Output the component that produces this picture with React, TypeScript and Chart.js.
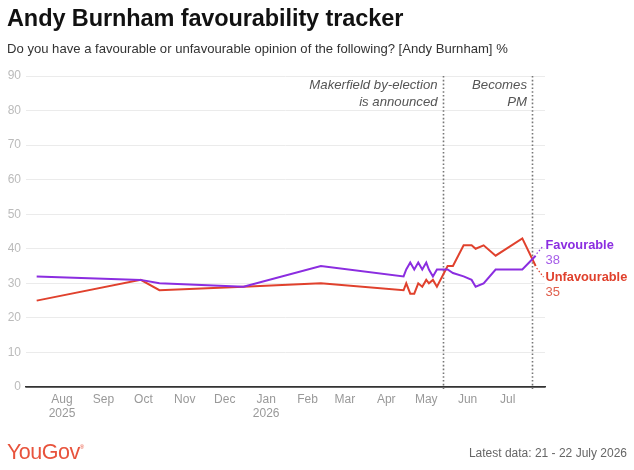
import React, { useEffect, useRef } from "react";
import { Chart, registerables } from "chart.js";

Chart.register(...registerables);

// ---- Data -------------------------------------------------------------
const pollDates = [
  "2025-07-13", "2025-09-29", "2025-10-13", "2025-12-15", "2026-02-11",
  "2026-04-14", "2026-04-16", "2026-04-19", "2026-04-22", "2026-04-25",
  "2026-04-28", "2026-05-01", "2026-05-03", "2026-05-06", "2026-05-09",
  "2026-05-17", "2026-05-21", "2026-05-29", "2026-06-04", "2026-06-07",
  "2026-06-13", "2026-06-22", "2026-07-12", "2026-07-22",
];
const favourable = [
  32, 31, 30, 29, 35,
  32, 34, 36, 34, 36,
  34, 36, 34, 32, 34,
  34, 33, 32, 31, 29,
  30, 34, 34, 38,
];
const unfavourable = [
  25, 31, 28, 29, 30,
  28, 30, 27, 27, 30,
  29, 31, 30, 31, 29,
  35, 35, 41, 41, 40,
  41, 38, 43, 35,
];
const seriesNames = ["Favourable", "Unfavourable"];

const monthTickDates = [
  "2025-08-01", "2025-09-01", "2025-10-01", "2025-11-01", "2025-12-01", "2026-01-01",
  "2026-02-01", "2026-03-01", "2026-04-01", "2026-05-01", "2026-06-01", "2026-07-01",
];
const monthLabels = ["Aug", "Sep", "Oct", "Nov", "Dec", "Jan", "Feb", "Mar", "Apr", "May", "Jun", "Jul"];
const yearLabels = ["2025", "", "", "", "", "2026", "", "", "", "", "", ""];
const yTickValues = [0, 10, 20, 30, 40, 50, 60, 70, 80, 90];

const eventDates = ["2026-05-14", "2026-07-20"];
const eventLabels = [
  ["Makerfield by-election", "is announced"],
  ["Becomes", "PM"],
];

const xRangeDates = ["2025-07-05", "2026-07-29"];

const titleText = "Andy Burnham favourability tracker";
const subtitleText = "Do you have a favourable or unfavourable opinion of the following? [Andy Burnham] %";
const footerText = "Latest data: 21 - 22 July 2026";

// ---- Helpers ----------------------------------------------------------
const BASE = Date.UTC(2025, 7, 1);
const dayNum = (s: string) => {
  const [y, m, d] = s.split("-").map(Number);
  return (Date.UTC(y, m - 1, d) - BASE) / 86400000;
};

const PURPLE = "#8b2de0";
const PURPLE_LIGHT = "#a65de8";
const RED = "#e0412d";
const RED_LIGHT = "#e0604e";
const FONT = "'Liberation Sans', Arial, sans-serif";

const overlayPlugin = {
  id: "overlay",
  beforeDatasetsDraw(chart: any) {
    const { ctx, chartArea, scales } = chart;
    ctx.save();
    eventDates.forEach((d) => {
      const x = Math.round(scales.x.getPixelForValue(dayNum(d))) - 0.5;
      ctx.strokeStyle = "#777";
      ctx.lineWidth = 1.6;
      ctx.setLineDash([1.6, 2.2]);
      ctx.beginPath();
      ctx.moveTo(x, chartArea.top);
      ctx.lineTo(x, chartArea.bottom + 2);
      ctx.stroke();
    });
    ctx.restore();
  },
  afterDatasetsDraw(chart: any) {
    const { ctx, chartArea, scales } = chart;
    ctx.save();
    // event annotations
    ctx.fillStyle = "#555";
    ctx.font = `italic 13.2px ${FONT}`;
    ctx.textAlign = "right";
    ctx.textBaseline = "middle";
    eventDates.forEach((d, i) => {
      const x = scales.x.getPixelForValue(dayNum(d));
      eventLabels[i].forEach((t, j) => {
        ctx.fillText(t, x - 6, chartArea.top + 9 + j * 17);
      });
    });

    // end labels
    const colors = [PURPLE, RED];
    const lights = [PURPLE_LIGHT, RED_LIGHT];
    const offsets = [-10, 11];
    const values = [favourable, unfavourable];
    chart.data.datasets.forEach((ds: any, i: number) => {
      const meta = chart.getDatasetMeta(i);
      const last = meta.data[meta.data.length - 1];
      const ly = last.y + offsets[i];
      const lx = chartArea.right + 0.5;
      ctx.strokeStyle = colors[i];
      ctx.lineWidth = 1.2;
      ctx.setLineDash([1.5, 2]);
      ctx.beginPath();
      ctx.moveTo(last.x + 1, last.y + (i === 0 ? -2 : 2));
      ctx.lineTo(lx - 2, ly);
      ctx.stroke();
      ctx.setLineDash([]);
      ctx.textAlign = "left";
      ctx.textBaseline = "middle";
      ctx.fillStyle = colors[i];
      ctx.font = `bold 12.8px ${FONT}`;
      ctx.fillText(seriesNames[i], lx, ly);
      ctx.fillStyle = lights[i];
      ctx.font = `13px ${FONT}`;
      ctx.fillText(String(values[i][values[i].length - 1]), lx, ly + 15);
    });
    ctx.restore();
  },
};

export default function App() {
  const canvasRef = useRef<HTMLCanvasElement | null>(null);

  useEffect(() => {
    const canvas = canvasRef.current;
    if (!canvas) return;
    const xs = pollDates.map(dayNum);
    const monthVals = monthTickDates.map(dayNum);

    const chart = new Chart(canvas, {
      type: "line",
      data: {
        datasets: [
          {
            label: seriesNames[0],
            data: xs.map((x, i) => ({ x, y: favourable[i] })),
            borderColor: PURPLE,
            borderWidth: 2,
            pointRadius: 0,
            tension: 0,
          },
          {
            label: seriesNames[1],
            data: xs.map((x, i) => ({ x, y: unfavourable[i] })),
            borderColor: RED,
            borderWidth: 2,
            pointRadius: 0,
            tension: 0,
          },
        ],
      },
      options: {
        animation: false,
        responsive: false,
        maintainAspectRatio: false,
        events: [],
        layout: { padding: { top: 76, right: 89, left: 0, bottom: 0 } },
        plugins: {
          legend: { display: false },
          tooltip: { enabled: false },
          title: { display: false },
        },
        scales: {
          x: {
            type: "linear",
            min: dayNum(xRangeDates[0]),
            max: dayNum(xRangeDates[1]),
            afterBuildTicks: (scale: any) => {
              scale.ticks = monthVals.map((v) => ({ value: v }));
            },
            afterFit: (scale: any) => {
              scale.height = 83;
            },
            grid: { display: false, drawTicks: false },
            border: { display: true, color: "#333", width: 1.5 },
            ticks: {
              autoSkip: false,
              maxRotation: 0,
              padding: 5,
              color: "#999",
              font: { family: FONT, size: 12 },
              callback: (value: any) => {
                const idx = monthVals.indexOf(Number(value));
                if (idx < 0) return "";
                return yearLabels[idx] ? [monthLabels[idx], yearLabels[idx]] : monthLabels[idx];
              },
            },
          },
          y: {
            min: 0,
            max: 90,
            afterBuildTicks: (scale: any) => {
              scale.ticks = yTickValues.map((v) => ({ value: v }));
            },
            afterFit: (scale: any) => {
              scale.width = 26;
            },
            grid: {
              drawTicks: false,
              color: (c: any) => (c.tick && c.tick.value === 0 ? "#333" : "#ebebeb"),
              lineWidth: (c: any) => (c.tick && c.tick.value === 0 ? 1.5 : 1),
            },
            border: { display: false },
            ticks: {
              padding: 5,
              color: "#bbb",
              font: { family: FONT, size: 12 },
            },
          },
        },
      },
      plugins: [overlayPlugin],
    } as any);

    return () => chart.destroy();
  }, []);

  return (
    <div
      style={{
        position: "absolute",
        left: 0,
        top: 0,
        width: 634,
        height: 470,
        background: "#fff",
        fontFamily: FONT,
        overflow: "hidden",
      }}
    >
      <canvas
        ref={canvasRef}
        width={634}
        height={470}
        style={{ position: "absolute", left: 0, top: 0, width: 634, height: 470 }}
      />
      <div
        style={{
          position: "absolute",
          left: 7,
          top: 5,
          fontSize: 23.5,
          lineHeight: "26px",
          fontWeight: 700,
          color: "#111",
          letterSpacing: -0.1,
          whiteSpace: "nowrap",
        }}
      >
        {titleText}
      </div>
      <div
        style={{
          position: "absolute",
          left: 7,
          top: 41,
          fontSize: 13.1,
          lineHeight: "16px",
          color: "#333",
          whiteSpace: "nowrap",
        }}
      >
        {subtitleText}
      </div>
      <div
        style={{
          position: "absolute",
          left: 7,
          top: 440,
          fontSize: 21.5,
          lineHeight: "24px",
          color: "#e8533c",
          letterSpacing: -0.5,
          whiteSpace: "nowrap",
        }}
      >
        YouGov<sup style={{ fontSize: 6, verticalAlign: "top", lineHeight: "14px" }}>®</sup>
      </div>
      <div
        style={{
          position: "absolute",
          right: 7,
          top: 445,
          fontSize: 12,
          lineHeight: "16px",
          color: "#666",
          whiteSpace: "nowrap",
        }}
      >
        {footerText}
      </div>
    </div>
  );
}
